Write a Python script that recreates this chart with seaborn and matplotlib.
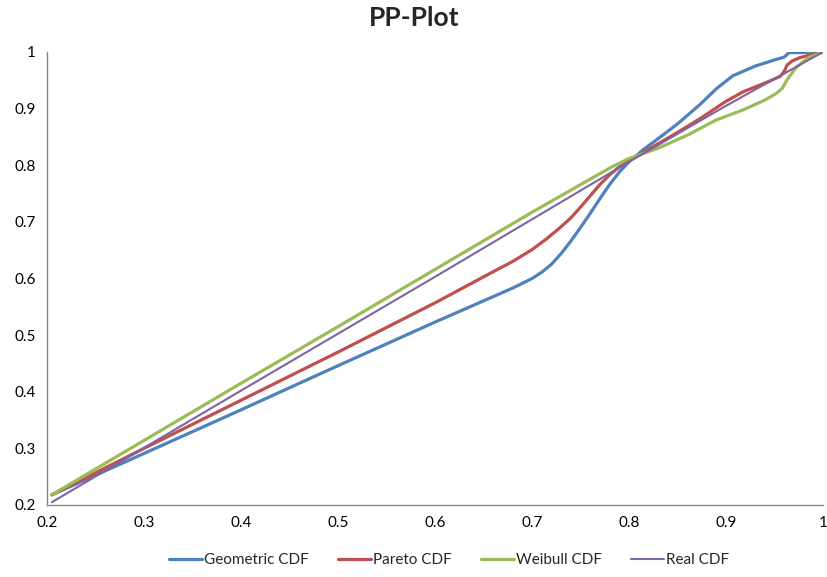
import pandas as pd
import matplotlib.pyplot as plt
import seaborn as sns

# Werte
geo_x = [0.205, 0.3, 0.4, 0.5, 0.6, 0.66, 0.68, 0.70, 0.71, 0.72, 0.73, 0.74, 0.75, 0.76, 0.77, 0.78, 0.79, 0.80,
         0.815, 0.83, 0.85, 0.873, 0.89, 0.907, 0.93, 0.95, 0.96, 0.965, 1.0]
geo_y = [0.218, 0.291, 0.368, 0.446, 0.523, 0.568, 0.583, 0.600, 0.611, 0.625, 0.644, 0.666, 0.690, 0.715, 0.741, 0.766, 0.788, 0.806,
         0.828, 0.847, 0.873, 0.907, 0.935, 0.958, 0.975, 0.986, 0.991, 0.999, 0.999]

par_x = [0.205, 0.3, 0.4, 0.5, 0.6, 0.66, 0.68, 0.70, 0.715, 0.729, 0.74, 0.75, 0.76, 0.77, 0.78, 0.79, 0.80, 0.82, 0.85, 0.873,
         0.9, 0.918, 0.94, 0.956, 0.960, 0.963, 0.968, 0.976, 0.99, 1.0]
par_y = [0.218, 0.300, 0.385, 0.470, 0.557, 0.612, 0.630, 0.651, 0.670, 0.690, 0.707, 0.726, 0.746, 0.766, 0.783, 0.797, 0.808, 0.828, 0.858, 0.882,
         0.913, 0.930, 0.945, 0.957, 0.966, 0.977, 0.984, 0.990, 0.996, 1.0]

wei_x = [0.205, 0.3, 0.4, 0.5, 0.6, 0.7, 0.78, 0.80, 0.83, 0.86, 0.89, 0.918, 0.94, 0.952, 0.958, 0.963, 0.968, 0.973, 0.985, 1.0]
wei_y = [0.218, 0.314, 0.415, 0.515, 0.616, 0.717, 0.795, 0.812, 0.830, 0.853, 0.880, 0.898, 0.915, 0.927, 0.936, 0.951, 0.963, 0.974, 0.990, 1.0]

real_x = [0.205, 0.4, 0.6, 0.8, 0.9, 1.0]
real_y = [0.205, 0.402, 0.603, 0.806, 0.905, 1.0]

series = [
    ('Geometric CDF', geo_x, geo_y, '#4F81BD', 2.3),
    ('Pareto CDF', par_x, par_y, '#C0504D', 2.3),
    ('Weibull CDF', wei_x, wei_y, '#9BBB59', 2.3),
    ('Real CDF', real_x, real_y, '#8064A2', 1.5),
]

sns.set_style('white')
plt.rcParams['font.family'] = ['Lato', 'DejaVu Sans']

fig = plt.figure(figsize=(8.28, 5.77), dpi=100)
ax = fig.add_axes([0.0568, 0.1248, 0.9372, 0.7851])

for name, xs, ys, col, lw in series:
    df = pd.DataFrame({'x': xs, 'y': ys})
    sns.lineplot(data=df, x='x', y='y', ax=ax, color=col, linewidth=lw, label=name, sort=False)
for ln in ax.get_lines():
    ln.set_solid_joinstyle('round')
    ln.set_solid_capstyle('round')

ax.set_xlim(0.2, 1.0)
ax.set_ylim(0.2, 1.0)
ticks = [0.2, 0.3, 0.4, 0.5, 0.6, 0.7, 0.8, 0.9, 1.0]
ax.set_xticks(ticks)
ax.set_yticks(ticks)
ax.set_xticklabels([f'{t:g}' for t in ticks])
ax.set_yticklabels([f'{t:g}' for t in ticks])
ax.tick_params(length=0, labelsize=11, colors='black', pad=8)
ax.set_xlabel('')
ax.set_ylabel('')

for s in ['top', 'right']:
    ax.spines[s].set_visible(False)
for s in ['left', 'bottom']:
    ax.spines[s].set_color('#868686')
    ax.spines[s].set_linewidth(1)

ax.get_legend().remove()
handles, labels = ax.get_legend_handles_labels()
fig.legend(handles, labels, loc='center', bbox_to_anchor=(449 / 828, 1 - 560 / 577), ncol=4,
           frameon=False, fontsize=11, handlelength=2.2, handletextpad=0.1, columnspacing=1.9)

fig.suptitle('PP-Plot', fontsize=19, fontweight='bold', y=0.99)

fig.savefig('out.png', dpi=100)
